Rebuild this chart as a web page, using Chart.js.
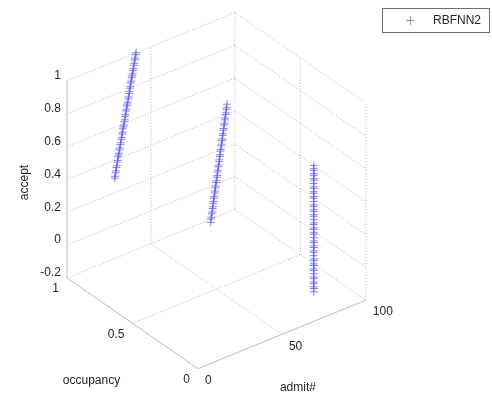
<!DOCTYPE html>
<html><head><meta charset="utf-8">
<script src="https://cdn.jsdelivr.net/npm/chart.js@4.4.1/dist/chart.umd.min.js"></script>
<style>html,body{margin:0;padding:0;background:#fff}canvas{display:block}</style>
</head><body>
<canvas id="c" width="492" height="398"></canvas>
<script>
// ---------------- data ----------------
const seriesName = 'RBFNN2';
const axisTitles = { admit: 'admit#', occupancy: 'occupancy', accept: 'accept' };
const admitTicks = [0, 50, 100];
const admitTickLabels = ['0', '50', '100'];
const occupancyTicks = [0, 0.5, 1];
const occupancyTickLabels = ['0', '0.5', '1'];
const acceptTicks = [-0.2, 0, 0.2, 0.4, 0.6, 0.8, 1];
const acceptTickLabels = ['-0.2', '0', '0.2', '0.4', '0.6', '0.8', '1'];

// three groups of RBFNN2 outputs, each at one occupancy level
const groupOccupancy = [1, 0.5, 0];
const admit1 = [28.4,28.7,28.9,29.2,29.4,29.7,30.0,30.2,30.5,30.7,31.0,31.3,31.5,31.8,32.0,32.3,32.6,32.8,33.1,33.3,
                33.6,33.9,34.1,34.4,34.6,34.9,35.2,35.4,35.7,35.9,36.2,36.5,36.7,37.0,37.2,37.5,37.8,38.0,38.3,38.5,
                38.8,39.1,39.3,39.6,39.8,40.1,40.4,40.6,40.9,41.2];
const accept1 = [0.29,0.30,0.32,0.33,0.35,0.36,0.38,0.39,0.41,0.42,0.43,0.45,0.46,0.48,0.49,0.51,0.52,0.54,0.55,0.57,
                 0.58,0.59,0.61,0.62,0.64,0.65,0.67,0.68,0.70,0.71,0.72,0.74,0.75,0.77,0.78,0.80,0.81,0.83,0.84,0.86,
                 0.87,0.88,0.90,0.91,0.93,0.94,0.96,0.97,0.99,1.00];
const admit2 = [46.6,46.8,47.0,47.2,47.5,47.7,47.9,48.1,48.3,48.5,48.8,49.0,49.2,49.4,49.6,49.8,50.0,50.3,50.5,50.7,
                50.9,51.1,51.3,51.6,51.8,52.0,52.2,52.4,52.6,52.9,53.1,53.3,53.5,53.7,53.9,54.2,54.4,54.6,54.8,55.0,
                55.2,55.5,55.7,55.9,56.1,56.3];
const accept2 = [0.22,0.24,0.25,0.27,0.28,0.30,0.31,0.33,0.34,0.36,0.37,0.39,0.40,0.42,0.43,0.45,0.46,0.48,0.49,0.51,
                 0.52,0.54,0.55,0.57,0.58,0.60,0.61,0.63,0.64,0.66,0.67,0.69,0.70,0.72,0.73,0.75,0.76,0.78,0.79,0.81,
                 0.82,0.84,0.85,0.87,0.88,0.90];
const admit3 = [69,69,69,69,69,69,69,69,69,69,69,69,69,69,69,69,69,69,69,69,
                69,69,69,69,69,69,69,69,69,69,69,69,69,69,69,69,69,69,69,69,
                69,69,69,69,69,69,69,69,69,69];
const accept3 = [-0.02,0.00,0.01,0.03,0.04,0.06,0.07,0.09,0.11,0.12,0.14,0.15,0.17,0.18,0.20,0.22,0.23,0.25,0.26,0.28,
                 0.29,0.31,0.33,0.34,0.36,0.37,0.39,0.40,0.42,0.44,0.45,0.47,0.48,0.50,0.51,0.53,0.55,0.56,0.58,0.59,
                 0.61,0.62,0.64,0.66,0.67,0.69,0.70,0.72,0.73,0.75];

// ---------------- 3D view (orthographic camera) ----------------
const LIM = { admit: [0, 100], occ: [0, 1], acc: [-0.2, 1] };
// screen displacement (right, up) produced by traversing each full axis range
const VIEW = { a: [171.3, 70.3], o: [-133.7, 93], z: [0, 202] };
const SCREEN = { x: [-197, 295], y: [-25, 373] };

function proj(ad, oc, ac) {
  const a = (ad - LIM.admit[0]) / (LIM.admit[1] - LIM.admit[0]);
  const o = (oc - LIM.occ[0]) / (LIM.occ[1] - LIM.occ[0]);
  const z = (ac - LIM.acc[0]) / (LIM.acc[1] - LIM.acc[0]);
  return { x: a * VIEW.a[0] + o * VIEW.o[0] + z * VIEW.z[0],
           y: a * VIEW.a[1] + o * VIEW.o[1] + z * VIEW.z[1] };
}

const groups = [[admit1, accept1], [admit2, accept2], [admit3, accept3]];
const points = [];
groups.forEach(([ad, ac], g) => ad.forEach((v, i) => points.push(proj(v, groupOccupancy[g], ac[i]))));

const zMin = LIM.acc[0], zMax = LIM.acc[1];
const aMin = LIM.admit[0], aMax = LIM.admit[1];
const oMin = LIM.occ[0], oMax = LIM.occ[1];

const gridSegs = [];
// back wall at occupancy max
acceptTicks.forEach(z => gridSegs.push([[aMin, oMax, z], [aMax, oMax, z]]));
admitTicks.filter(a => a !== aMin).forEach(a => gridSegs.push([[a, oMax, zMin], [a, oMax, zMax]]));
// back wall at admit max
acceptTicks.forEach(z => gridSegs.push([[aMax, oMax, z], [aMax, oMin, z]]));
occupancyTicks.filter(o => o !== oMax).forEach(o => gridSegs.push([[aMax, o, zMin], [aMax, o, zMax]]));
// floor
admitTicks.filter(a => a !== aMin && a !== aMax).forEach(a => gridSegs.push([[a, oMin, zMin], [a, oMax, zMin]]));
occupancyTicks.filter(o => o !== oMin && o !== oMax).forEach(o => gridSegs.push([[aMin, o, zMin], [aMax, o, zMin]]));

const axisSegs = [
  [[aMin, oMax, zMin], [aMin, oMax, zMax]],   // accept axis
  [[aMin, oMin, zMin], [aMin, oMax, zMin]],   // occupancy axis
  [[aMin, oMin, zMin], [aMax, oMin, zMin]]    // admit axis
];

const MARK = 'rgba(85,85,255,0.7)';
const datasets = [{
  label: seriesName,
  data: points,
  showLine: false,
  pointStyle: 'cross',
  pointRadius: 4,
  pointBorderWidth: 1,
  pointBorderColor: MARK,
  pointBackgroundColor: MARK,
  order: 0
}];
gridSegs.forEach(s => datasets.push({
  data: s.map(p => proj(...p)), showLine: true, pointRadius: 0,
  borderColor: '#b3b3b3', borderWidth: 1, borderDash: [1, 2], order: 2
}));
axisSegs.forEach(s => datasets.push({
  data: s.map(p => proj(...p)), showLine: true, pointRadius: 0,
  borderColor: '#bdbdbd', borderWidth: 1, order: 1
}));

const FONT = '12px Arial, "Liberation Sans", sans-serif';
const TEXT = '#262626';

const labelsPlugin = {
  id: 'labels3d',
  afterDraw(chart) {
    const ctx = chart.ctx, sx = chart.scales.x, sy = chart.scales.y;
    const px = p => [sx.getPixelForValue(p.x), sy.getPixelForValue(p.y)];
    ctx.save();
    ctx.font = FONT; ctx.fillStyle = TEXT; ctx.textBaseline = 'middle';
    // accept ticks
    ctx.textAlign = 'right';
    acceptTicks.forEach((z, i) => { const [x, y] = px(proj(aMin, oMax, z)); ctx.fillText(acceptTickLabels[i], x - 6, y - 5); });
    // occupancy ticks
    occupancyTicks.forEach((o, i) => { const [x, y] = px(proj(aMin, o, zMin)); ctx.fillText(occupancyTickLabels[i], x - 8, y + 11); });
    // admit ticks
    ctx.textAlign = 'left';
    admitTicks.forEach((a, i) => { const [x, y] = px(proj(a, oMin, zMin)); ctx.fillText(admitTickLabels[i], x + 7, y + 12); });
    // axis titles
    ctx.textAlign = 'center';
    { const [x, y] = px(proj(aMin, (oMin + oMax) / 2, zMin)); ctx.fillText(axisTitles.occupancy, x - 41, y + 57); }
    { const [x, y] = px(proj((aMin + aMax) / 2, oMin, zMin)); ctx.fillText(axisTitles.admit, x + 16, y + 53); }
    { const [x, y] = px(proj(aMin, oMax, (zMin + zMax) / 2)); ctx.translate(x - 42, y + 3); ctx.rotate(-Math.PI / 2); ctx.fillText(axisTitles.accept, 0, 0); }
    ctx.restore();

    // legend box
    ctx.save();
    const L = 382, T = 8, W = 107, H = 24;
    ctx.fillStyle = '#fff'; ctx.fillRect(L, T, W, H);
    ctx.strokeStyle = '#6e6e6e'; ctx.lineWidth = 1; ctx.strokeRect(L + 0.5, T + 0.5, W, H);
    ctx.strokeStyle = MARK;
    ctx.beginPath(); ctx.moveTo(406, 20.5); ctx.lineTo(414, 20.5); ctx.moveTo(410.5, 16); ctx.lineTo(410.5, 25); ctx.stroke();
    ctx.font = FONT; ctx.fillStyle = TEXT; ctx.textAlign = 'left'; ctx.textBaseline = 'middle';
    ctx.fillText(seriesName, 433, 20.5);
    ctx.restore();
  }
};

new Chart(document.getElementById('c'), {
  type: 'scatter',
  data: { datasets },
  options: {
    responsive: false, animation: false, devicePixelRatio: 1,
    layout: { padding: 0 },
    plugins: { legend: { display: false }, tooltip: { enabled: false } },
    scales: {
      x: { type: 'linear', min: SCREEN.x[0], max: SCREEN.x[1], display: false },
      y: { type: 'linear', min: SCREEN.y[0], max: SCREEN.y[1], display: false }
    }
  },
  plugins: [labelsPlugin]
});
</script>
</body></html>
